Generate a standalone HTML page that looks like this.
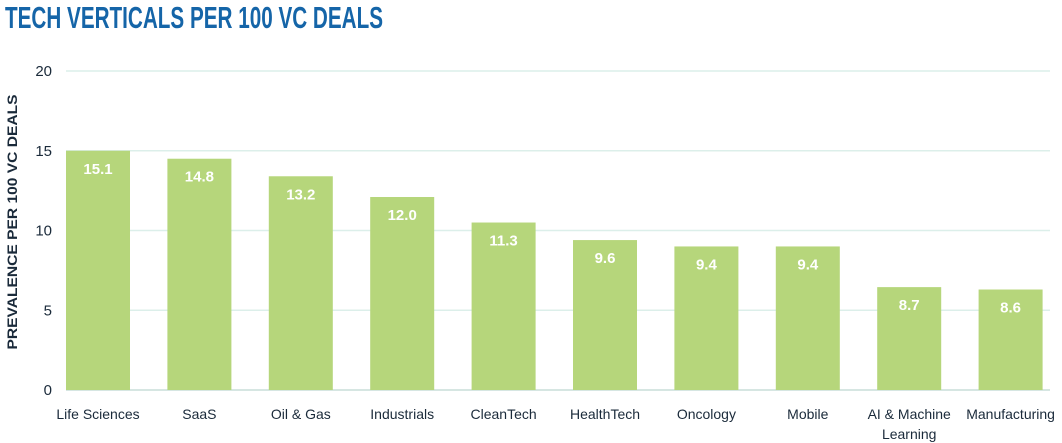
<!DOCTYPE html>
<html><head><meta charset="utf-8"><style>
html,body{margin:0;padding:0;background:#fff;}
svg{display:block;font-family:"Liberation Sans",sans-serif;}
</style></head><body>
<svg id="chart" width="1062" height="443" viewBox="0 0 1062 443">
<text x="5" y="28" font-size="31" font-weight="bold" fill="#1565a8" textLength="378" lengthAdjust="spacingAndGlyphs">TECH VERTICALS PER 100 VC DEALS</text>
<text transform="translate(17,222) rotate(-90)" text-anchor="middle" font-size="14" font-weight="bold" fill="#1a2a3a" textLength="255" lengthAdjust="spacingAndGlyphs">PREVALENCE PER 100 VC DEALS</text>
<g id="grid"></g><g id="bars"></g><g id="xlabels"></g>
</svg>
<script>
const categories=["Life Sciences","SaaS","Oil & Gas","Industrials","CleanTech","HealthTech","Oncology","Mobile","AI & Machine|Learning","Manufacturing"];
const values=[15.0,14.5,13.4,12.1,10.5,9.4,9.0,9.0,6.45,6.3];
const valueLabels=["15.1","14.8","13.2","12.0","11.3","9.6","9.4","9.4","8.7","8.6"];
const yTicks=[0,5,10,15,20];
const NS="http://www.w3.org/2000/svg";
const y0=390,yTop=71,yMax=20,left=66,right=1050;
const y=v=>y0-(v/yMax)*(y0-yTop);
const step=101.4;
const x=i=>left+i*step;
const bw=64;
function mk(t,a,txt){const e=document.createElementNS(NS,t);for(const k in a)e.setAttribute(k,a[k]);if(txt!==undefined)e.textContent=txt;return e;}
const g=document.getElementById('grid');
yTicks.forEach(t=>{
 const l=mk('line',{x1:left,x2:right,y1:y(t),y2:y(t),stroke:t===0?'#c9ddd8':'#dcefea','stroke-width':1.5});
 
 
 g.appendChild(l);
 const tx=mk('text',{x:52,y:y(t)+5,'text-anchor':'end','font-size':15,fill:'#1a2a3a'},String(t));
 
 
 g.appendChild(tx);
});
const b=document.getElementById('bars'),xl=document.getElementById('xlabels');
categories.forEach((c,i)=>{
 const r=mk('rect',{x:x(i),y:y(values[i]),width:bw,height:y0-y(values[i]),fill:'#b6d67b'});
 
 
 b.appendChild(r);
 const vt=mk('text',{x:x(i)+bw/2,y:y(values[i])+23,'text-anchor':'middle','font-size':15,'font-weight':'bold',fill:'#fff'},valueLabels[i]);
 
 
 b.appendChild(vt);
 c.split('|').forEach((ln,j)=>{
  const t=mk('text',{x:x(i)+bw/2,y:419+j*20,'text-anchor':'middle','font-size':14,fill:'#1a2a3a'},ln);
  
  
  xl.appendChild(t);
 });
});
</script>
</body></html>
